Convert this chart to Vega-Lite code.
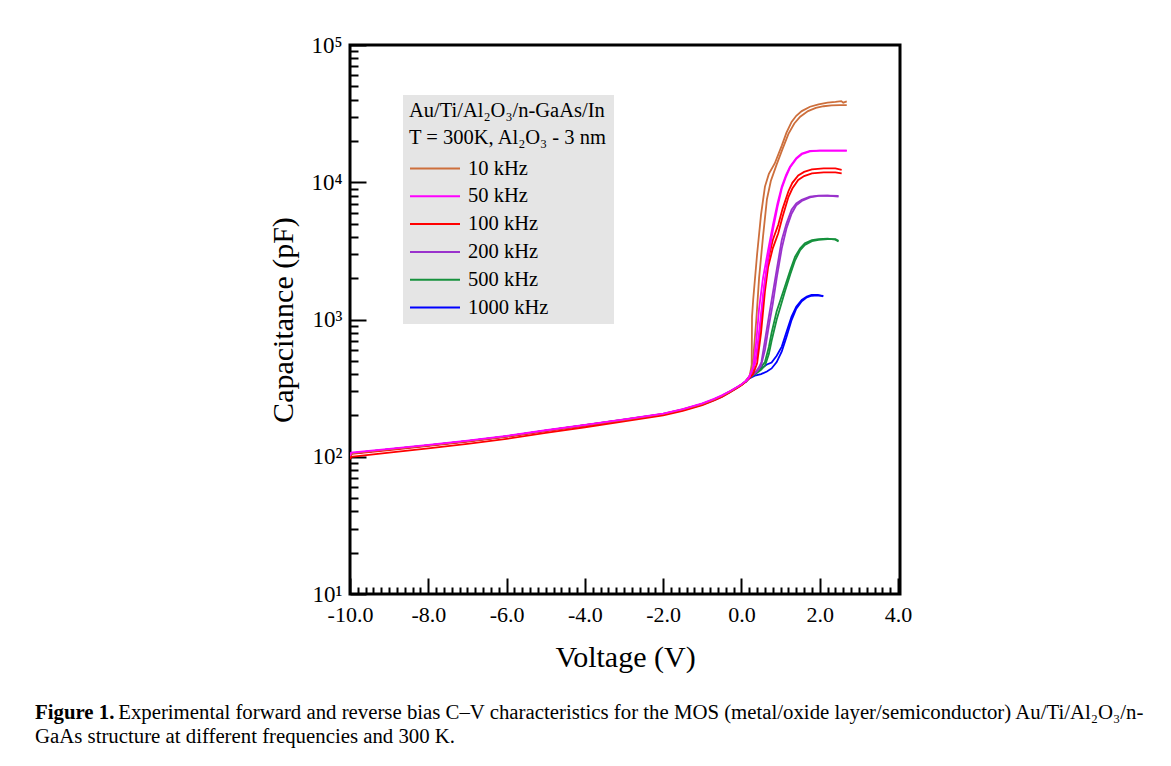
{
  "$schema": "https://vega.github.io/schema/vega-lite/v6.json",
  "width": 550,
  "height": 549,
  "autosize": {"type": "none"},
  "padding": {"left": 350, "top": 45, "right": 271, "bottom": 172},
  "background": "white",
  "config": {
    "view": {"stroke": "black", "strokeWidth": 3},
    "font": "Liberation Serif",
    "axis": {"grid": false, "domain": false, "tickColor": "black", "tickWidth": 2, "labelColor": "black", "titleColor": "black", "labelFont": "Liberation Serif", "titleFont": "Liberation Serif", "titleFontWeight": "normal", "labelFlush": false, "labelOverlap": false, "labelBound": false}
  },
  "title": {
    "text": "Figure 1.",
    "subtitle": ["\u200b\u00a0\u00a0\u00a0\u00a0\u00a0\u00a0\u00a0\u00a0\u00a0\u00a0\u00a0\u00a0\u00a0\u00a0\u00a0\u00a0Experimental forward and reverse bias C–V characteristics for the MOS (metal/oxide layer/semiconductor) Au/Ti/Al₂O₃/n-", "GaAs structure at different frequencies and 300 K."],
    "orient": "bottom",
    "anchor": "start",
    "frame": "group",
    "dx": -315,
    "offset": 31,
    "font": "Liberation Serif",
    "fontSize": 20.8,
    "fontWeight": "bold",
    "color": "black",
    "subtitleFont": "Liberation Serif",
    "subtitleFontSize": 20.8,
    "subtitleColor": "black",
    "subtitleLineHeight": 24,
    "subtitlePadding": -20.8,
    "limit": 1200
  },
  "data": {
    "values": [
      {"f": "1000 kHz", "b": "a", "v": -10, "c": 100},
      {"f": "1000 kHz", "b": "a", "v": -9.97, "c": 106},
      {"f": "1000 kHz", "b": "a", "v": -9, "c": 113},
      {"f": "1000 kHz", "b": "a", "v": -8, "c": 121},
      {"f": "1000 kHz", "b": "a", "v": -7, "c": 130},
      {"f": "1000 kHz", "b": "a", "v": -6, "c": 141},
      {"f": "1000 kHz", "b": "a", "v": -5, "c": 155},
      {"f": "1000 kHz", "b": "a", "v": -4, "c": 169},
      {"f": "1000 kHz", "b": "a", "v": -3, "c": 185},
      {"f": "1000 kHz", "b": "a", "v": -2, "c": 203},
      {"f": "1000 kHz", "b": "a", "v": -1.5, "c": 219},
      {"f": "1000 kHz", "b": "a", "v": -1, "c": 240},
      {"f": "1000 kHz", "b": "a", "v": -0.7, "c": 258},
      {"f": "1000 kHz", "b": "a", "v": -0.5, "c": 274},
      {"f": "1000 kHz", "b": "a", "v": -0.3, "c": 295},
      {"f": "1000 kHz", "b": "a", "v": -0.1, "c": 320},
      {"f": "1000 kHz", "b": "a", "v": 0, "c": 334},
      {"f": "1000 kHz", "b": "a", "v": 0.1, "c": 352},
      {"f": "1000 kHz", "b": "a", "v": 0.2, "c": 378},
      {"f": "1000 kHz", "b": "a", "v": 0.34, "c": 405},
      {"f": "1000 kHz", "b": "a", "v": 0.5, "c": 440},
      {"f": "1000 kHz", "b": "a", "v": 0.65, "c": 470},
      {"f": "1000 kHz", "b": "a", "v": 0.77, "c": 485},
      {"f": "1000 kHz", "b": "a", "v": 0.9, "c": 545},
      {"f": "1000 kHz", "b": "a", "v": 1.03, "c": 635},
      {"f": "1000 kHz", "b": "a", "v": 1.15, "c": 810},
      {"f": "1000 kHz", "b": "a", "v": 1.28, "c": 1050},
      {"f": "1000 kHz", "b": "a", "v": 1.4, "c": 1240},
      {"f": "1000 kHz", "b": "a", "v": 1.54, "c": 1390},
      {"f": "1000 kHz", "b": "a", "v": 1.67, "c": 1470},
      {"f": "1000 kHz", "b": "a", "v": 1.79, "c": 1510},
      {"f": "1000 kHz", "b": "a", "v": 1.95, "c": 1510},
      {"f": "1000 kHz", "b": "a", "v": 2.09, "c": 1475},
      {"f": "1000 kHz", "b": "b", "v": 0.1, "c": 350},
      {"f": "1000 kHz", "b": "b", "v": 0.2, "c": 372},
      {"f": "1000 kHz", "b": "b", "v": 0.34, "c": 390},
      {"f": "1000 kHz", "b": "b", "v": 0.5, "c": 400},
      {"f": "1000 kHz", "b": "b", "v": 0.65, "c": 418},
      {"f": "1000 kHz", "b": "b", "v": 0.77, "c": 440},
      {"f": "1000 kHz", "b": "b", "v": 0.9, "c": 490},
      {"f": "1000 kHz", "b": "b", "v": 1.03, "c": 585},
      {"f": "1000 kHz", "b": "b", "v": 1.15, "c": 745},
      {"f": "1000 kHz", "b": "b", "v": 1.28, "c": 990},
      {"f": "1000 kHz", "b": "b", "v": 1.4, "c": 1200},
      {"f": "1000 kHz", "b": "b", "v": 1.54, "c": 1360},
      {"f": "1000 kHz", "b": "b", "v": 1.67, "c": 1450},
      {"f": "1000 kHz", "b": "b", "v": 1.79, "c": 1490},
      {"f": "1000 kHz", "b": "b", "v": 1.95, "c": 1500},
      {"f": "1000 kHz", "b": "b", "v": 2.09, "c": 1485},

      {"f": "500 kHz", "b": "a", "v": -10, "c": 100},
      {"f": "500 kHz", "b": "a", "v": -9.97, "c": 106},
      {"f": "500 kHz", "b": "a", "v": -9, "c": 113},
      {"f": "500 kHz", "b": "a", "v": -8, "c": 121},
      {"f": "500 kHz", "b": "a", "v": -7, "c": 130},
      {"f": "500 kHz", "b": "a", "v": -6, "c": 141},
      {"f": "500 kHz", "b": "a", "v": -5, "c": 155},
      {"f": "500 kHz", "b": "a", "v": -4, "c": 170},
      {"f": "500 kHz", "b": "a", "v": -3, "c": 186},
      {"f": "500 kHz", "b": "a", "v": -2, "c": 204},
      {"f": "500 kHz", "b": "a", "v": -1.5, "c": 220},
      {"f": "500 kHz", "b": "a", "v": -1, "c": 242},
      {"f": "500 kHz", "b": "a", "v": -0.7, "c": 261},
      {"f": "500 kHz", "b": "a", "v": -0.5, "c": 277},
      {"f": "500 kHz", "b": "a", "v": -0.3, "c": 297},
      {"f": "500 kHz", "b": "a", "v": -0.1, "c": 321},
      {"f": "500 kHz", "b": "a", "v": 0, "c": 335},
      {"f": "500 kHz", "b": "a", "v": 0.1, "c": 352},
      {"f": "500 kHz", "b": "a", "v": 0.2, "c": 380},
      {"f": "500 kHz", "b": "a", "v": 0.4, "c": 420},
      {"f": "500 kHz", "b": "a", "v": 0.5, "c": 450},
      {"f": "500 kHz", "b": "a", "v": 0.6, "c": 490},
      {"f": "500 kHz", "b": "a", "v": 0.7, "c": 630},
      {"f": "500 kHz", "b": "a", "v": 0.77, "c": 800},
      {"f": "500 kHz", "b": "a", "v": 0.9, "c": 1150},
      {"f": "500 kHz", "b": "a", "v": 1.0, "c": 1400},
      {"f": "500 kHz", "b": "a", "v": 1.11, "c": 1740},
      {"f": "500 kHz", "b": "a", "v": 1.25, "c": 2300},
      {"f": "500 kHz", "b": "a", "v": 1.37, "c": 2870},
      {"f": "500 kHz", "b": "a", "v": 1.5, "c": 3300},
      {"f": "500 kHz", "b": "a", "v": 1.62, "c": 3600},
      {"f": "500 kHz", "b": "a", "v": 1.8, "c": 3780},
      {"f": "500 kHz", "b": "a", "v": 1.97, "c": 3850},
      {"f": "500 kHz", "b": "a", "v": 2.2, "c": 3880},
      {"f": "500 kHz", "b": "a", "v": 2.4, "c": 3820},
      {"f": "500 kHz", "b": "a", "v": 2.48, "c": 3700},
      {"f": "500 kHz", "b": "b", "v": 0.1, "c": 350},
      {"f": "500 kHz", "b": "b", "v": 0.2, "c": 375},
      {"f": "500 kHz", "b": "b", "v": 0.4, "c": 410},
      {"f": "500 kHz", "b": "b", "v": 0.5, "c": 430},
      {"f": "500 kHz", "b": "b", "v": 0.6, "c": 460},
      {"f": "500 kHz", "b": "b", "v": 0.7, "c": 560},
      {"f": "500 kHz", "b": "b", "v": 0.77, "c": 700},
      {"f": "500 kHz", "b": "b", "v": 0.9, "c": 1000},
      {"f": "500 kHz", "b": "b", "v": 1.0, "c": 1250},
      {"f": "500 kHz", "b": "b", "v": 1.11, "c": 1600},
      {"f": "500 kHz", "b": "b", "v": 1.25, "c": 2150},
      {"f": "500 kHz", "b": "b", "v": 1.37, "c": 2700},
      {"f": "500 kHz", "b": "b", "v": 1.5, "c": 3200},
      {"f": "500 kHz", "b": "b", "v": 1.62, "c": 3500},
      {"f": "500 kHz", "b": "b", "v": 1.8, "c": 3720},
      {"f": "500 kHz", "b": "b", "v": 1.97, "c": 3800},
      {"f": "500 kHz", "b": "b", "v": 2.2, "c": 3850},
      {"f": "500 kHz", "b": "b", "v": 2.4, "c": 3850},
      {"f": "500 kHz", "b": "b", "v": 2.48, "c": 3750},

      {"f": "200 kHz", "b": "a", "v": -10, "c": 100},
      {"f": "200 kHz", "b": "a", "v": -9.97, "c": 106},
      {"f": "200 kHz", "b": "a", "v": -9, "c": 113},
      {"f": "200 kHz", "b": "a", "v": -8, "c": 121},
      {"f": "200 kHz", "b": "a", "v": -7, "c": 130},
      {"f": "200 kHz", "b": "a", "v": -6, "c": 141},
      {"f": "200 kHz", "b": "a", "v": -5, "c": 155},
      {"f": "200 kHz", "b": "a", "v": -4, "c": 170},
      {"f": "200 kHz", "b": "a", "v": -3, "c": 186},
      {"f": "200 kHz", "b": "a", "v": -2, "c": 205},
      {"f": "200 kHz", "b": "a", "v": -1.5, "c": 221},
      {"f": "200 kHz", "b": "a", "v": -1, "c": 243},
      {"f": "200 kHz", "b": "a", "v": -0.7, "c": 262},
      {"f": "200 kHz", "b": "a", "v": -0.5, "c": 278},
      {"f": "200 kHz", "b": "a", "v": -0.3, "c": 298},
      {"f": "200 kHz", "b": "a", "v": -0.1, "c": 322},
      {"f": "200 kHz", "b": "a", "v": 0, "c": 335},
      {"f": "200 kHz", "b": "a", "v": 0.1, "c": 352},
      {"f": "200 kHz", "b": "a", "v": 0.2, "c": 380},
      {"f": "200 kHz", "b": "a", "v": 0.35, "c": 410},
      {"f": "200 kHz", "b": "a", "v": 0.45, "c": 450},
      {"f": "200 kHz", "b": "a", "v": 0.51, "c": 490},
      {"f": "200 kHz", "b": "a", "v": 0.6, "c": 700},
      {"f": "200 kHz", "b": "a", "v": 0.7, "c": 1050},
      {"f": "200 kHz", "b": "a", "v": 0.77, "c": 1380},
      {"f": "200 kHz", "b": "a", "v": 0.9, "c": 2300},
      {"f": "200 kHz", "b": "a", "v": 1.03, "c": 3800},
      {"f": "200 kHz", "b": "a", "v": 1.15, "c": 5000},
      {"f": "200 kHz", "b": "a", "v": 1.28, "c": 6300},
      {"f": "200 kHz", "b": "a", "v": 1.4, "c": 7000},
      {"f": "200 kHz", "b": "a", "v": 1.54, "c": 7450},
      {"f": "200 kHz", "b": "a", "v": 1.75, "c": 7850},
      {"f": "200 kHz", "b": "a", "v": 1.97, "c": 8000},
      {"f": "200 kHz", "b": "a", "v": 2.2, "c": 8000},
      {"f": "200 kHz", "b": "a", "v": 2.48, "c": 7850},
      {"f": "200 kHz", "b": "b", "v": 0.1, "c": 350},
      {"f": "200 kHz", "b": "b", "v": 0.2, "c": 376},
      {"f": "200 kHz", "b": "b", "v": 0.4, "c": 420},
      {"f": "200 kHz", "b": "b", "v": 0.5, "c": 460},
      {"f": "200 kHz", "b": "b", "v": 0.6, "c": 600},
      {"f": "200 kHz", "b": "b", "v": 0.7, "c": 900},
      {"f": "200 kHz", "b": "b", "v": 0.8, "c": 1300},
      {"f": "200 kHz", "b": "b", "v": 0.9, "c": 2000},
      {"f": "200 kHz", "b": "b", "v": 1.03, "c": 3300},
      {"f": "200 kHz", "b": "b", "v": 1.15, "c": 4600},
      {"f": "200 kHz", "b": "b", "v": 1.28, "c": 5900},
      {"f": "200 kHz", "b": "b", "v": 1.4, "c": 6800},
      {"f": "200 kHz", "b": "b", "v": 1.54, "c": 7300},
      {"f": "200 kHz", "b": "b", "v": 1.75, "c": 7750},
      {"f": "200 kHz", "b": "b", "v": 1.97, "c": 7950},
      {"f": "200 kHz", "b": "b", "v": 2.2, "c": 8000},
      {"f": "200 kHz", "b": "b", "v": 2.48, "c": 7950},

      {"f": "100 kHz", "b": "a", "v": -10, "c": 100},
      {"f": "100 kHz", "b": "a", "v": -9.97, "c": 105},
      {"f": "100 kHz", "b": "a", "v": -9, "c": 112},
      {"f": "100 kHz", "b": "a", "v": -8, "c": 120},
      {"f": "100 kHz", "b": "a", "v": -7, "c": 129},
      {"f": "100 kHz", "b": "a", "v": -6, "c": 140},
      {"f": "100 kHz", "b": "a", "v": -5, "c": 154},
      {"f": "100 kHz", "b": "a", "v": -4, "c": 169},
      {"f": "100 kHz", "b": "a", "v": -3, "c": 185},
      {"f": "100 kHz", "b": "a", "v": -2, "c": 204},
      {"f": "100 kHz", "b": "a", "v": -1.5, "c": 220},
      {"f": "100 kHz", "b": "a", "v": -1, "c": 242},
      {"f": "100 kHz", "b": "a", "v": -0.7, "c": 261},
      {"f": "100 kHz", "b": "a", "v": -0.5, "c": 277},
      {"f": "100 kHz", "b": "a", "v": -0.3, "c": 297},
      {"f": "100 kHz", "b": "a", "v": -0.1, "c": 321},
      {"f": "100 kHz", "b": "a", "v": 0, "c": 335},
      {"f": "100 kHz", "b": "a", "v": 0.1, "c": 352},
      {"f": "100 kHz", "b": "a", "v": 0.2, "c": 380},
      {"f": "100 kHz", "b": "a", "v": 0.3, "c": 430},
      {"f": "100 kHz", "b": "a", "v": 0.4, "c": 560},
      {"f": "100 kHz", "b": "a", "v": 0.5, "c": 1000},
      {"f": "100 kHz", "b": "a", "v": 0.6, "c": 1900},
      {"f": "100 kHz", "b": "a", "v": 0.68, "c": 2700},
      {"f": "100 kHz", "b": "a", "v": 0.8, "c": 3800},
      {"f": "100 kHz", "b": "a", "v": 0.94, "c": 4900},
      {"f": "100 kHz", "b": "a", "v": 1.05, "c": 6400},
      {"f": "100 kHz", "b": "a", "v": 1.2, "c": 8600},
      {"f": "100 kHz", "b": "a", "v": 1.3, "c": 9900},
      {"f": "100 kHz", "b": "a", "v": 1.45, "c": 11200},
      {"f": "100 kHz", "b": "a", "v": 1.6, "c": 11900},
      {"f": "100 kHz", "b": "a", "v": 1.8, "c": 12400},
      {"f": "100 kHz", "b": "a", "v": 2.1, "c": 12600},
      {"f": "100 kHz", "b": "a", "v": 2.4, "c": 12600},
      {"f": "100 kHz", "b": "a", "v": 2.56, "c": 12300},
      {"f": "100 kHz", "b": "b", "v": -10, "c": 96},
      {"f": "100 kHz", "b": "b", "v": -9.97, "c": 100},
      {"f": "100 kHz", "b": "b", "v": -9, "c": 107},
      {"f": "100 kHz", "b": "b", "v": -8, "c": 115},
      {"f": "100 kHz", "b": "b", "v": -7, "c": 124},
      {"f": "100 kHz", "b": "b", "v": -6, "c": 135},
      {"f": "100 kHz", "b": "b", "v": -5, "c": 149},
      {"f": "100 kHz", "b": "b", "v": -4, "c": 164},
      {"f": "100 kHz", "b": "b", "v": -3, "c": 181},
      {"f": "100 kHz", "b": "b", "v": -2, "c": 200},
      {"f": "100 kHz", "b": "b", "v": -1.5, "c": 216},
      {"f": "100 kHz", "b": "b", "v": -1, "c": 238},
      {"f": "100 kHz", "b": "b", "v": -0.7, "c": 257},
      {"f": "100 kHz", "b": "b", "v": -0.5, "c": 273},
      {"f": "100 kHz", "b": "b", "v": -0.3, "c": 294},
      {"f": "100 kHz", "b": "b", "v": -0.1, "c": 318},
      {"f": "100 kHz", "b": "b", "v": 0, "c": 332},
      {"f": "100 kHz", "b": "b", "v": 0.1, "c": 350},
      {"f": "100 kHz", "b": "b", "v": 0.2, "c": 372},
      {"f": "100 kHz", "b": "b", "v": 0.3, "c": 400},
      {"f": "100 kHz", "b": "b", "v": 0.4, "c": 480},
      {"f": "100 kHz", "b": "b", "v": 0.5, "c": 800},
      {"f": "100 kHz", "b": "b", "v": 0.6, "c": 1600},
      {"f": "100 kHz", "b": "b", "v": 0.68, "c": 2400},
      {"f": "100 kHz", "b": "b", "v": 0.8, "c": 3300},
      {"f": "100 kHz", "b": "b", "v": 0.94, "c": 4250},
      {"f": "100 kHz", "b": "b", "v": 1.05, "c": 5600},
      {"f": "100 kHz", "b": "b", "v": 1.2, "c": 7800},
      {"f": "100 kHz", "b": "b", "v": 1.3, "c": 9000},
      {"f": "100 kHz", "b": "b", "v": 1.45, "c": 10400},
      {"f": "100 kHz", "b": "b", "v": 1.6, "c": 11100},
      {"f": "100 kHz", "b": "b", "v": 1.8, "c": 11600},
      {"f": "100 kHz", "b": "b", "v": 2.1, "c": 11800},
      {"f": "100 kHz", "b": "b", "v": 2.4, "c": 11800},
      {"f": "100 kHz", "b": "b", "v": 2.56, "c": 11600},

      {"f": "10 kHz", "b": "a", "v": -10, "c": 101},
      {"f": "10 kHz", "b": "a", "v": -9.97, "c": 106},
      {"f": "10 kHz", "b": "a", "v": -9, "c": 113},
      {"f": "10 kHz", "b": "a", "v": -8, "c": 121},
      {"f": "10 kHz", "b": "a", "v": -7, "c": 130},
      {"f": "10 kHz", "b": "a", "v": -6, "c": 141},
      {"f": "10 kHz", "b": "a", "v": -5, "c": 155},
      {"f": "10 kHz", "b": "a", "v": -4, "c": 170},
      {"f": "10 kHz", "b": "a", "v": -3, "c": 186},
      {"f": "10 kHz", "b": "a", "v": -2, "c": 205},
      {"f": "10 kHz", "b": "a", "v": -1.5, "c": 221},
      {"f": "10 kHz", "b": "a", "v": -1, "c": 243},
      {"f": "10 kHz", "b": "a", "v": -0.7, "c": 262},
      {"f": "10 kHz", "b": "a", "v": -0.5, "c": 278},
      {"f": "10 kHz", "b": "a", "v": -0.3, "c": 298},
      {"f": "10 kHz", "b": "a", "v": -0.1, "c": 322},
      {"f": "10 kHz", "b": "a", "v": 0, "c": 336},
      {"f": "10 kHz", "b": "a", "v": 0.1, "c": 354},
      {"f": "10 kHz", "b": "a", "v": 0.2, "c": 385},
      {"f": "10 kHz", "b": "a", "v": 0.26, "c": 420},
      {"f": "10 kHz", "b": "a", "v": 0.27, "c": 1050},
      {"f": "10 kHz", "b": "a", "v": 0.3, "c": 1400},
      {"f": "10 kHz", "b": "a", "v": 0.4, "c": 3000},
      {"f": "10 kHz", "b": "a", "v": 0.5, "c": 5800},
      {"f": "10 kHz", "b": "a", "v": 0.6, "c": 9300},
      {"f": "10 kHz", "b": "a", "v": 0.7, "c": 11500},
      {"f": "10 kHz", "b": "a", "v": 0.85, "c": 13700},
      {"f": "10 kHz", "b": "a", "v": 1.03, "c": 18500},
      {"f": "10 kHz", "b": "a", "v": 1.15, "c": 23000},
      {"f": "10 kHz", "b": "a", "v": 1.28, "c": 27500},
      {"f": "10 kHz", "b": "a", "v": 1.4, "c": 30500},
      {"f": "10 kHz", "b": "a", "v": 1.54, "c": 33000},
      {"f": "10 kHz", "b": "a", "v": 1.75, "c": 35500},
      {"f": "10 kHz", "b": "a", "v": 1.97, "c": 37000},
      {"f": "10 kHz", "b": "a", "v": 2.2, "c": 38000},
      {"f": "10 kHz", "b": "a", "v": 2.4, "c": 38500},
      {"f": "10 kHz", "b": "a", "v": 2.55, "c": 39000},
      {"f": "10 kHz", "b": "a", "v": 2.6, "c": 38000},
      {"f": "10 kHz", "b": "a", "v": 2.69, "c": 38800},
      {"f": "10 kHz", "b": "b", "v": 0.1, "c": 352},
      {"f": "10 kHz", "b": "b", "v": 0.2, "c": 380},
      {"f": "10 kHz", "b": "b", "v": 0.3, "c": 520},
      {"f": "10 kHz", "b": "b", "v": 0.38, "c": 1000},
      {"f": "10 kHz", "b": "b", "v": 0.45, "c": 2000},
      {"f": "10 kHz", "b": "b", "v": 0.55, "c": 4000},
      {"f": "10 kHz", "b": "b", "v": 0.65, "c": 7500},
      {"f": "10 kHz", "b": "b", "v": 0.75, "c": 10200},
      {"f": "10 kHz", "b": "b", "v": 0.9, "c": 13500},
      {"f": "10 kHz", "b": "b", "v": 1.05, "c": 17500},
      {"f": "10 kHz", "b": "b", "v": 1.2, "c": 22500},
      {"f": "10 kHz", "b": "b", "v": 1.35, "c": 26800},
      {"f": "10 kHz", "b": "b", "v": 1.5, "c": 30000},
      {"f": "10 kHz", "b": "b", "v": 1.7, "c": 33000},
      {"f": "10 kHz", "b": "b", "v": 1.9, "c": 34800},
      {"f": "10 kHz", "b": "b", "v": 2.1, "c": 35800},
      {"f": "10 kHz", "b": "b", "v": 2.3, "c": 36300},
      {"f": "10 kHz", "b": "b", "v": 2.5, "c": 36500},
      {"f": "10 kHz", "b": "b", "v": 2.69, "c": 36500},

      {"f": "50 kHz", "b": "a", "v": -10, "c": 102},
      {"f": "50 kHz", "b": "a", "v": -9.97, "c": 107},
      {"f": "50 kHz", "b": "a", "v": -9, "c": 114},
      {"f": "50 kHz", "b": "a", "v": -8, "c": 122},
      {"f": "50 kHz", "b": "a", "v": -7, "c": 131},
      {"f": "50 kHz", "b": "a", "v": -6, "c": 142},
      {"f": "50 kHz", "b": "a", "v": -5, "c": 156},
      {"f": "50 kHz", "b": "a", "v": -4, "c": 171},
      {"f": "50 kHz", "b": "a", "v": -3, "c": 187},
      {"f": "50 kHz", "b": "a", "v": -2, "c": 206},
      {"f": "50 kHz", "b": "a", "v": -1.5, "c": 222},
      {"f": "50 kHz", "b": "a", "v": -1, "c": 245},
      {"f": "50 kHz", "b": "a", "v": -0.7, "c": 264},
      {"f": "50 kHz", "b": "a", "v": -0.5, "c": 280},
      {"f": "50 kHz", "b": "a", "v": -0.3, "c": 300},
      {"f": "50 kHz", "b": "a", "v": -0.1, "c": 324},
      {"f": "50 kHz", "b": "a", "v": 0, "c": 337},
      {"f": "50 kHz", "b": "a", "v": 0.1, "c": 355},
      {"f": "50 kHz", "b": "a", "v": 0.2, "c": 383},
      {"f": "50 kHz", "b": "a", "v": 0.3, "c": 450},
      {"f": "50 kHz", "b": "a", "v": 0.38, "c": 700},
      {"f": "50 kHz", "b": "a", "v": 0.45, "c": 1200},
      {"f": "50 kHz", "b": "a", "v": 0.55, "c": 2000},
      {"f": "50 kHz", "b": "a", "v": 0.68, "c": 3200},
      {"f": "50 kHz", "b": "a", "v": 0.81, "c": 5000},
      {"f": "50 kHz", "b": "a", "v": 0.92, "c": 7000},
      {"f": "50 kHz", "b": "a", "v": 1.03, "c": 9300},
      {"f": "50 kHz", "b": "a", "v": 1.14, "c": 11300},
      {"f": "50 kHz", "b": "a", "v": 1.24, "c": 13000},
      {"f": "50 kHz", "b": "a", "v": 1.4, "c": 15000},
      {"f": "50 kHz", "b": "a", "v": 1.54, "c": 16200},
      {"f": "50 kHz", "b": "a", "v": 1.75, "c": 16900},
      {"f": "50 kHz", "b": "a", "v": 2.0, "c": 17000},
      {"f": "50 kHz", "b": "a", "v": 2.69, "c": 17000},
      {"f": "50 kHz", "b": "b", "v": 0.1, "c": 352},
      {"f": "50 kHz", "b": "b", "v": 0.2, "c": 380},
      {"f": "50 kHz", "b": "b", "v": 0.35, "c": 480},
      {"f": "50 kHz", "b": "b", "v": 0.45, "c": 800},
      {"f": "50 kHz", "b": "b", "v": 0.55, "c": 1500},
      {"f": "50 kHz", "b": "b", "v": 0.68, "c": 2800},
      {"f": "50 kHz", "b": "b", "v": 0.81, "c": 4600},
      {"f": "50 kHz", "b": "b", "v": 0.92, "c": 6600},
      {"f": "50 kHz", "b": "b", "v": 1.03, "c": 9000},
      {"f": "50 kHz", "b": "b", "v": 1.14, "c": 11000},
      {"f": "50 kHz", "b": "b", "v": 1.24, "c": 12800},
      {"f": "50 kHz", "b": "b", "v": 1.4, "c": 14800},
      {"f": "50 kHz", "b": "b", "v": 1.54, "c": 16000},
      {"f": "50 kHz", "b": "b", "v": 1.75, "c": 16800},
      {"f": "50 kHz", "b": "b", "v": 2.0, "c": 17000},
      {"f": "50 kHz", "b": "b", "v": 2.69, "c": 17000}
    ]
  },
  "mark": {"type": "line", "strokeWidth": 1.8, "clip": true},
  "encoding": {
    "x": {
      "field": "v", "type": "quantitative",
      "scale": {"domain": [-10, 4.05], "nice": false, "zero": false},
      "axis": {
        "title": "Voltage (V)",
        "titleFontSize": 30,
        "titlePadding": 8,
        "labelFontSize": 22,
        "labelPadding": 26,
        "values": [-10,-9.8,-9.6,-9.4,-9.2,-9,-8.8,-8.6,-8.4,-8.2,-8,-7.8,-7.6,-7.4,-7.2,-7,-6.8,-6.6,-6.4,-6.2,-6,-5.8,-5.6,-5.4,-5.2,-5,-4.8,-4.6,-4.4,-4.2,-4,-3.8,-3.6,-3.4,-3.2,-3,-2.8,-2.6,-2.4,-2.2,-2,-1.8,-1.6,-1.4,-1.2,-1,-0.8,-0.6,-0.4,-0.2,0,0.2,0.4,0.6,0.8,1,1.2,1.4,1.6,1.8,2,2.2,2.4,2.6,2.8,3,3.2,3.4,3.6,3.8,4],
        "labelExpr": "abs(datum.value/2 - round(datum.value/2)) < 0.01 ? (datum.value < -0.01 ? '-' : '') + format(abs(datum.value), '.1f') : ''",
        "tickSize": {"condition": {"test": "abs(datum.value/2 - round(datum.value/2)) < 0.01", "value": -16}, "value": -7}
      }
    },
    "y": {
      "field": "c", "type": "quantitative",
      "scale": {"type": "log", "domain": [10, 100000], "nice": false},
      "axis": {
        "title": "Capacitance (pF)",
        "titleFontSize": 30,
        "titlePadding": 12,
        "labelFontSize": 23,
        "labelPadding": 24,
        "values": [10,20,30,40,50,60,70,80,90,100,200,300,400,500,600,700,800,900,1000,2000,3000,4000,5000,6000,7000,8000,9000,10000,20000,30000,40000,50000,60000,70000,80000,90000,100000],
        "labelExpr": "abs(log(datum.value)/LN10 - round(log(datum.value)/LN10)) < 0.001 ? '10' + ['⁰','¹','²','³','⁴','⁵'][round(log(datum.value)/LN10)] : ''",
        "tickSize": {"condition": {"test": "abs(log(datum.value)/LN10 - round(log(datum.value)/LN10)) < 0.001", "value": -16}, "value": -8}
      }
    },
    "color": {
      "field": "f", "type": "nominal",
      "scale": {
        "domain": ["10 kHz", "50 kHz", "100 kHz", "200 kHz", "500 kHz", "1000 kHz"],
        "range": ["#cd6f3c", "#ff00ff", "#ff0000", "#9932cc", "#16913d", "#0000ff"]
      },
      "legend": {
        "title": ["Au/Ti/Al₂O₃/n-GaAs/In", "T = 300K, Al₂O₃ - 3 nm"],
        "orient": "none",
        "legendX": 53,
        "legendY": 50,
        "fillColor": "#e5e5e5",
        "padding": 6,
        "titleFont": "Liberation Serif",
        "titleFontSize": 20.5,
        "titleFontWeight": "normal",
        "titleColor": "black",
        "titleLineHeight": 27,
        "titlePadding": 10,
        "titleLimit": 400,
        "labelFont": "Liberation Serif",
        "labelFontSize": 20.5,
        "labelColor": "black",
        "labelOffset": 7,
        "symbolType": "stroke",
        "symbolSize": 2500,
        "symbolStrokeWidth": 2,
        "clipHeight": 20,
        "rowPadding": 6.8
      }
    },
    "detail": {"field": "b", "type": "nominal"}
  }
}
